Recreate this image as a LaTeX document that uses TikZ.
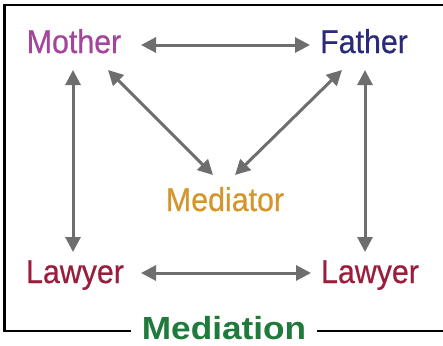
\documentclass[tikz,border=0pt]{standalone}
\usepackage{fontspec}
\setmainfont{Liberation Sans}[FakeStretch=0.92,FakeBold=0.6]
\newfontfamily\medfont{Liberation Sans}[FakeStretch=1.1]
\usetikzlibrary{arrows.meta}
\definecolor{cmother}{HTML}{A4449A}
\definecolor{cfather}{HTML}{2B2A7A}
\definecolor{cmediator}{HTML}{D3962A}
\definecolor{clawyer}{HTML}{9A1D3B}
\definecolor{cmediation}{HTML}{1F7A3C}
\definecolor{carrow}{HTML}{6E6E6E}
\tikzset{
  lbl/.style={anchor=base, inner sep=0pt, font=\fontsize{33}{36}\selectfont},
  arr/.style={draw=carrow, line width=3pt, {Triangle[length=15pt,width=15pt]}-{Triangle[length=15pt,width=15pt]}},
  frame/.style={draw=black, line width=2.4pt}
}
\begin{document}
\begin{tikzpicture}[x=1pt,y=-1pt]
\useasboundingbox (0,0) rectangle (443,345);
\node[lbl, text=cmother] (mother) at (74,53) {Mother};
\node[lbl, text=cfather] (father) at (364,53) {Father};
\node[lbl, text=cmediator] (mediator) at (225,211) {Mediator};
\node[lbl, text=clawyer] (lawyerL) at (75,283) {Lawyer};
\node[lbl, text=clawyer] (lawyerR) at (370,283) {Lawyer};
\node[lbl, text=cmediation, font=\fontsize{32}{36}\medfont\bfseries] (mediation) at (224,339) {Mediation};
\draw[frame] (443,5) -- (4.5,5) -- (4.5,331) -- ([xshift=-11pt]mediation.west |- 0,331);
\draw[frame] ([xshift=11pt]mediation.east |- 0,331) -- (443,331);
\draw[arr] ([shift={(67pt,8pt)}]mother.base) -- ([shift={(-54pt,8pt)}]father.base);
\draw[arr] ([shift={(66pt,10pt)}]lawyerL.base) -- ([shift={(-59pt,10pt)}]lawyerR.base);
\draw[arr] ([shift={(-1pt,-17pt)}]mother.base) -- ([shift={(-2pt,31pt)}]lawyerL.base);
\draw[arr] ([shift={(1pt,-17pt)}]father.base) -- ([shift={(-5pt,31pt)}]lawyerR.base);
\draw[arr] ([shift={(34pt,-17pt)}]mother.base) -- ([shift={(-12pt,36pt)}]mediator.base);
\draw[arr] ([shift={(-22pt,-17pt)}]father.base) -- ([shift={(10pt,36pt)}]mediator.base);
\end{tikzpicture}
\end{document}
